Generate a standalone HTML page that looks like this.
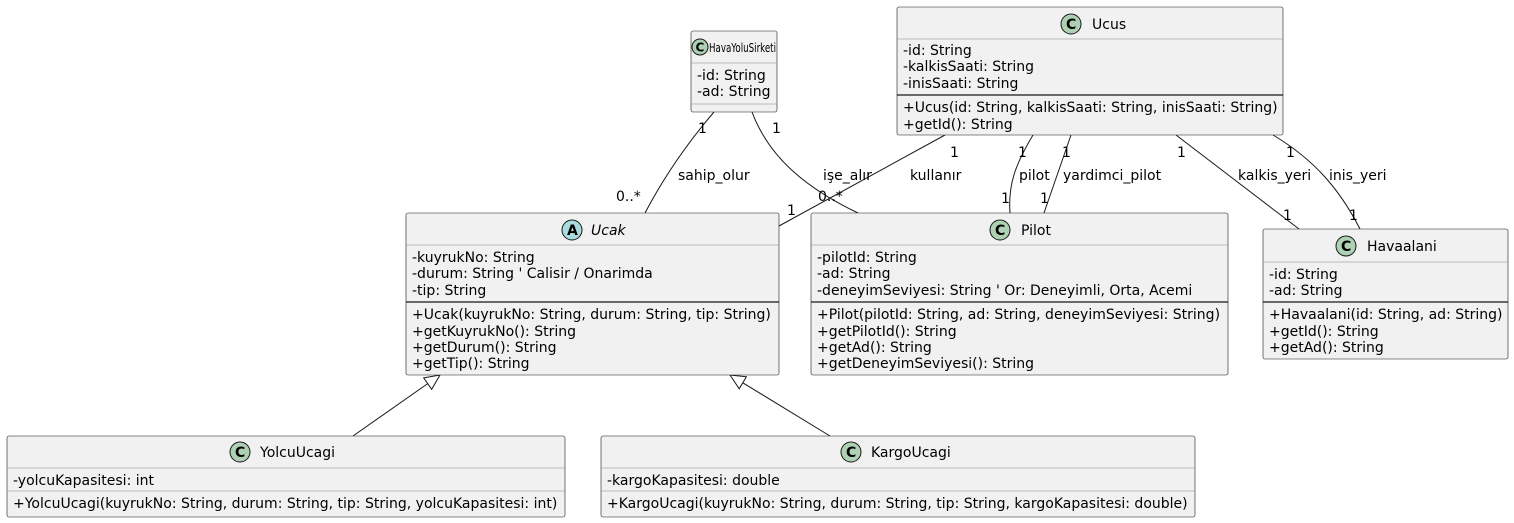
<!DOCTYPE html>
<html><head><meta charset="utf-8"><style>
html,body{margin:0;padding:0;background:#fff;}
svg{display:block;}
text{font-family:"DejaVu Sans","Liberation Sans",sans-serif;font-size:14px;fill:#000;}
.b{fill:#F1F1F1;stroke:#181818;stroke-width:0.6;}
.l{stroke:#181818;stroke-width:1;fill:none;}
.s{stroke:#181818;stroke-width:1.2;}
.t{stroke:#888;stroke-width:0.6;}
.c{fill:#ADD1B2;stroke:#181818;stroke-width:1;}
.a{fill:#A9DCDF;stroke:#181818;stroke-width:1;}
.ic{font-weight:bold;font-size:14px;}
</style></head><body>
<svg width="1514" height="523" viewBox="0 0 1514 523" xmlns="http://www.w3.org/2000/svg">
<!-- connectors -->
<path class="l" d="M714,112 C690,140 665,175 645,213"/>
<path class="l" d="M752,112 C770,160 810,190 858,213"/>
<path class="l" d="M945,135 L779,226"/>
<path class="l" d="M1033,135 C1015,165 1008,185 1010,213"/>
<path class="l" d="M1071,135 L1044,213"/>
<path class="l" d="M1176,135 L1299,229"/>
<path class="l" d="M1273,135 C1315,160 1340,190 1360,229"/>
<path class="l" d="M427.7,383.6 L353,436"/>
<path class="l" d="M742.8,382.8 L830,436"/>
<polygon points="440,375 431.7,389.3 423.7,377.9" fill="#fff" stroke="#181818" stroke-width="1"/>
<polygon points="730,375 739.2,388.8 746.4,376.8" fill="#fff" stroke="#181818" stroke-width="1"/>
<!-- labels -->
<text x="698" y="133">1</text>
<text x="616" y="201">0..*</text>
<text x="678" y="180">sahip_olur</text>
<text x="772" y="133">1</text>
<text x="818" y="201">0..*</text>
<text x="823" y="180">işe_alır</text>
<text x="950" y="157">1</text>
<text x="787" y="215">1</text>
<text x="910" y="180">kullanır</text>
<text x="1018" y="157">1</text>
<text x="1001" y="203">1</text>
<text x="1019" y="180">pilot</text>
<text x="1062" y="157">1</text>
<text x="1040" y="203">1</text>
<text x="1063" y="180">yardimci_pilot</text>
<text x="1177" y="157">1</text>
<text x="1283" y="220">1</text>
<text x="1238" y="180">kalkis_yeri</text>
<text x="1286" y="157">1</text>
<text x="1349" y="220">1</text>
<text x="1329" y="180">inis_yeri</text>

<!-- HavaYoluSirketi -->
<rect class="b" x="691" y="31" width="86" height="81" rx="2"/>
<line class="t" x1="691" y1="63" x2="777" y2="63"/>
<line class="t" x1="691" y1="104" x2="777" y2="104"/>
<circle class="c" cx="700" cy="47" r="8"/><text class="ic" x="695.5" y="51.5" style="font-size:12px">C</text>
<text x="709" y="52" style="font-size:12.5px" textLength="67" lengthAdjust="spacingAndGlyphs">HavaYoluSirketi</text>
<text x="697" y="80">-id: String</text>
<text x="697" y="96">-ad: String</text>

<!-- Ucus -->
<rect class="b" x="897" y="7" width="386" height="128" rx="2"/>
<line class="t" x1="897" y1="39" x2="1283" y2="39"/>
<line class="s" x1="897" y1="95" x2="1283" y2="95"/>
<circle class="c" cx="1071" cy="24" r="10"/><text class="ic" x="1066" y="29">C</text>
<text x="1092" y="29">Ucus</text>
<text x="903" y="55">-id: String</text>
<text x="903" y="71">-kalkisSaati: String</text>
<text x="903" y="88">-inisSaati: String</text>
<text x="903" y="112">+Ucus(id: String, kalkisSaati: String, inisSaati: String)</text>
<text x="903" y="129">+getId(): String</text>

<!-- Ucak -->
<rect class="b" x="406" y="213" width="373" height="162" rx="2"/>
<line class="t" x1="406" y1="245" x2="779" y2="245"/>
<line class="s" x1="406" y1="302" x2="779" y2="302"/>
<circle class="a" cx="572" cy="230" r="10"/><text class="ic" x="567" y="235">A</text>
<text x="591" y="235" font-style="italic">Ucak</text>
<text x="412" y="262">-kuyrukNo: String</text>
<text x="412" y="278">-durum: String ' Calisir / Onarimda</text>
<text x="412" y="295">-tip: String</text>
<text x="412" y="319">+Ucak(kuyrukNo: String, durum: String, tip: String)</text>
<text x="412" y="336">+getKuyrukNo(): String</text>
<text x="412" y="352">+getDurum(): String</text>
<text x="412" y="368">+getTip(): String</text>

<!-- Pilot -->
<rect class="b" x="811" y="213" width="417" height="162" rx="2"/>
<line class="t" x1="811" y1="245" x2="1228" y2="245"/>
<line class="s" x1="811" y1="302" x2="1228" y2="302"/>
<circle class="c" cx="1000" cy="230" r="10"/><text class="ic" x="995" y="235">C</text>
<text x="1021" y="235">Pilot</text>
<text x="817" y="262">-pilotId: String</text>
<text x="817" y="278">-ad: String</text>
<text x="817" y="295">-deneyimSeviyesi: String ' Or: Deneyimli, Orta, Acemi</text>
<text x="817" y="319">+Pilot(pilotId: String, ad: String, deneyimSeviyesi: String)</text>
<text x="817" y="336">+getPilotId(): String</text>
<text x="817" y="352">+getAd(): String</text>
<text x="817" y="368">+getDeneyimSeviyesi(): String</text>

<!-- Havaalani -->
<rect class="b" x="1263" y="229" width="245" height="130" rx="2"/>
<line class="t" x1="1263" y1="262" x2="1508" y2="262"/>
<line class="s" x1="1263" y1="302" x2="1508" y2="302"/>
<circle class="c" cx="1346" cy="246" r="10"/><text class="ic" x="1341" y="251">C</text>
<text x="1367" y="251">Havaalani</text>
<text x="1269" y="279">-id: String</text>
<text x="1269" y="295">-ad: String</text>
<text x="1269" y="319">+Havaalani(id: String, ad: String)</text>
<text x="1269" y="336">+getId(): String</text>
<text x="1269" y="352">+getAd(): String</text>

<!-- YolcuUcagi -->
<rect class="b" x="7" y="436" width="558" height="81" rx="2"/>
<line class="t" x1="7" y1="468" x2="565" y2="468"/>
<line class="t" x1="7" y1="491" x2="565" y2="491"/>
<circle class="c" cx="240" cy="452" r="10"/><text class="ic" x="235" y="457">C</text>
<text x="260" y="457">YolcuUcagi</text>
<text x="13" y="485">-yolcuKapasitesi: int</text>
<text x="13" y="508">+YolcuUcagi(kuyrukNo: String, durum: String, tip: String, yolcuKapasitesi: int)</text>

<!-- KargoUcagi -->
<rect class="b" x="601" y="436" width="594" height="81" rx="2"/>
<line class="t" x1="601" y1="468" x2="1195" y2="468"/>
<line class="t" x1="601" y1="491" x2="1195" y2="491"/>
<circle class="c" cx="851" cy="452" r="10"/><text class="ic" x="846" y="457">C</text>
<text x="871" y="457">KargoUcagi</text>
<text x="607" y="485">-kargoKapasitesi: double</text>
<text x="607" y="508">+KargoUcagi(kuyrukNo: String, durum: String, tip: String, kargoKapasitesi: double)</text>
</svg>
</body></html>
